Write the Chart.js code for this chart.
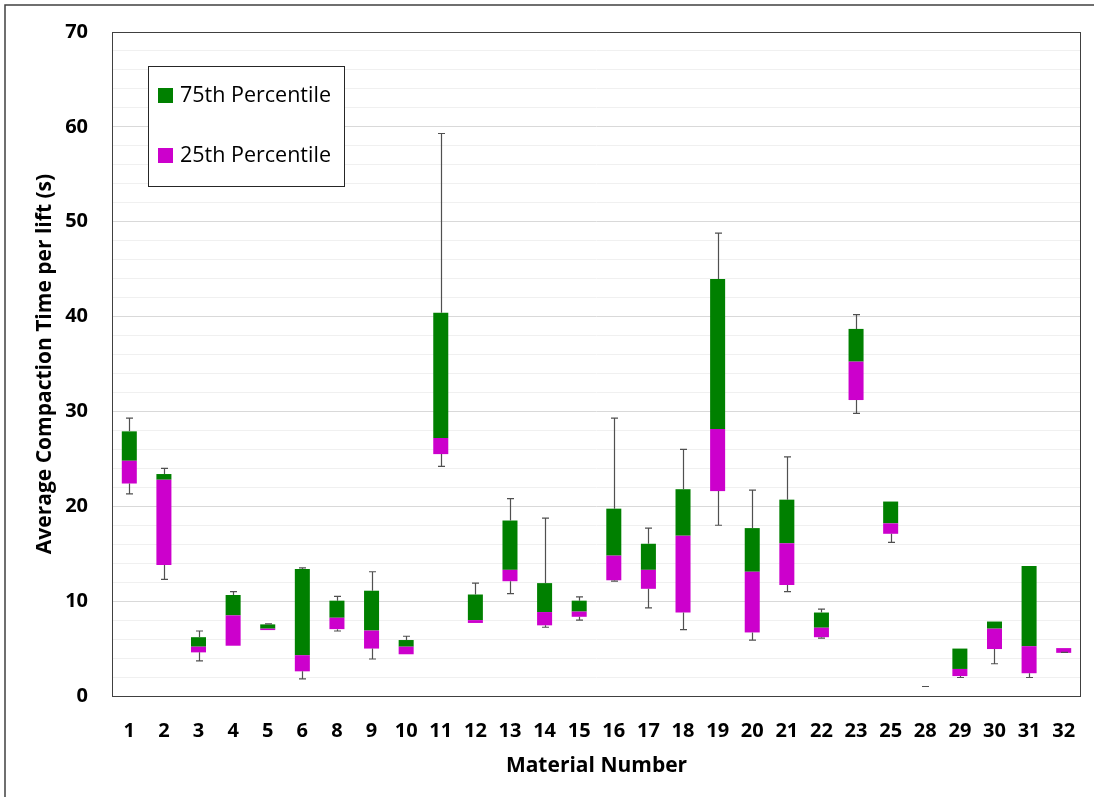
<!DOCTYPE html>
<html>
<head>
<meta charset="utf-8">
<script src="https://cdn.jsdelivr.net/npm/chart.js@4"></script>
<style>
  html, body { margin: 0; padding: 0; background: #fff; }
  #wrap { position: relative; width: 1094px; height: 797px; }
</style>
</head>
<body>
<div id="wrap"><canvas id="boxChart" width="1094" height="797"></canvas></div>
<script>
// Material numbers (x categories)
const materials = ['1','2','3','4','5','6','8','9','10','11','12','13','14','15','16','17','18','19','20','21','22','23','25','28','29','30','31','32'];

// Box plot values (seconds)
const q1Values =     [22.4, 13.8, 4.6, 5.3, 6.95, 2.6, 7.05, 5.0, 4.4, 25.5, 7.7, 12.1, 7.45, 8.35, 12.2, 11.3, 8.8, 21.6, 6.7, 11.7, 6.2, 31.2, 17.1, 1.0, 2.1, 4.95, 2.4, 4.55];
const medianValues = [24.8, 22.8, 5.2, 8.5, 7.1, 4.3, 8.25, 6.9, 5.2, 27.2, 8.0, 13.3, 8.85, 8.9, 14.8, 13.3, 16.9, 28.15, 13.1, 16.1, 7.2, 35.25, 18.2, 1.0, 2.85, 7.1, 5.25, 5.05];
const q3Values =     [27.9, 23.4, 6.2, 10.65, 7.55, 13.4, 10.05, 11.1, 5.9, 40.4, 10.7, 18.5, 11.9, 10.05, 19.75, 16.05, 21.8, 43.95, 17.7, 20.7, 8.8, 38.7, 20.5, 1.0, 5.0, 7.85, 13.7, 5.05];
const minValues =    [21.3, 12.3, 3.7, 5.3, 6.95, 1.8, 6.85, 3.9, 4.4, 24.2, 7.7, 10.8, 7.25, 8.0, 12.1, 9.3, 7.0, 18.0, 5.9, 11.0, 6.1, 29.8, 16.2, 1.0, 1.95, 3.4, 1.95, 4.6];
const maxValues =    [29.3, 24.0, 6.85, 11.0, 7.6, 13.5, 10.5, 13.1, 6.3, 59.3, 11.9, 20.8, 18.75, 10.45, 29.3, 17.7, 26.0, 48.8, 21.7, 25.2, 9.15, 40.2, 20.5, 1.0, 5.0, 7.85, 13.7, 5.05];

const GREEN = '#008000';
const MAGENTA = '#CC00CC';
const FONT = '"Open Sans", "Noto Sans", sans-serif';

// stacked segments built from the quartiles
const baseSeg = q1Values.slice();
const lowerSeg = medianValues.map((m, i) => +(m - q1Values[i]).toFixed(3));
const upperSeg = q3Values.map((q, i) => +(q - medianValues[i]).toFixed(3));

// whiskers (error bars) drawn with the chart's own scales
const whiskerPlugin = {
    id: 'whiskers',
    afterDatasetsDraw(chart) {
        const ctx = chart.ctx;
        const x = chart.scales.x, y = chart.scales.y;
        const cap = 3.5;
        ctx.save();
        ctx.strokeStyle = '#505050';
        ctx.lineWidth = 1.2;
        materials.forEach((m, i) => {
            const cx = Math.round(x.getPixelForValue(i)) + 0.5;
            const boxTop = y.getPixelForValue(q3Values[i]);
            const boxBot = y.getPixelForValue(q1Values[i]);
            const top = y.getPixelForValue(maxValues[i]);
            const bot = y.getPixelForValue(minValues[i]);
            ctx.beginPath();
            if (maxValues[i] > q3Values[i] || q3Values[i] === q1Values[i]) {
                ctx.moveTo(cx, boxTop); ctx.lineTo(cx, top);
                ctx.moveTo(cx - cap, top); ctx.lineTo(cx + cap, top);
            }
            if (minValues[i] !== q1Values[i] || q3Values[i] === q1Values[i]) {
                ctx.moveTo(cx, boxBot); ctx.lineTo(cx, bot);
                ctx.moveTo(cx - cap, bot); ctx.lineTo(cx + cap, bot);
            }
            ctx.stroke();
        });
        ctx.restore();
    }
};

// frame, outer border and boxed legend
const framePlugin = {
    id: 'frame',
    afterDraw(chart) {
        const ctx = chart.ctx;
        const a = chart.chartArea;
        ctx.save();
        ctx.strokeStyle = '#404040';
        ctx.lineWidth = 1;
        ctx.strokeRect(a.left + 0.5, a.top + 0.5, a.right - a.left - 1, a.bottom - a.top);
        // outer border (runs off the right and bottom edges)
        ctx.lineWidth = 1.5;
        ctx.strokeStyle = '#404040';
        ctx.strokeRect(5, 5, 1200, 1000);

        // legend box
        ctx.lineWidth = 1;
        ctx.strokeStyle = '#262626';
        ctx.fillStyle = '#fff';
        ctx.fillRect(148, 66, 197, 120);
        ctx.strokeRect(148.5, 66.5, 196, 120);
        const items = [['75th Percentile', GREEN, 96], ['25th Percentile', MAGENTA, 156]];
        ctx.font = '21.5px ' + FONT;
        ctx.textBaseline = 'middle';
        items.forEach(([label, color, yy]) => {
            ctx.fillStyle = color;
            ctx.fillRect(158, yy - 8, 15, 15);
            ctx.fillStyle = '#000';
            ctx.fillText(label, 180, yy);
        });
        ctx.restore();
    }
};

const ctx = document.getElementById('boxChart').getContext('2d');

const boxChart = new Chart(ctx, {
    type: 'bar',
    data: {
        labels: materials,
        datasets: [
            {
                label: 'base',
                data: baseSeg,
                backgroundColor: 'rgba(0,0,0,0)',
                borderWidth: 0
            },
            {
                label: '25th Percentile',
                data: lowerSeg,
                backgroundColor: MAGENTA,
                borderWidth: 0
            },
            {
                label: '75th Percentile',
                data: upperSeg,
                backgroundColor: GREEN,
                borderWidth: 0
            }
        ]
    },
    options: {
        responsive: false,
        animation: false,
        devicePixelRatio: 1,
        layout: { padding: { left: 0, top: 32, right: 13, bottom: 0 } },
        datasets: {
            bar: { barPercentage: 0.434, categoryPercentage: 1, grouped: false }
        },
        scales: {
            x: {
                stacked: true,
                afterFit: s => { s.height = 101; s.paddingLeft = 0; s.paddingRight = 0; },
                grid: { display: false, drawTicks: false },
                border: { display: false },
                ticks: {
                    padding: 23,
                    color: '#000',
                    font: { family: FONT, size: 20, weight: 'bold' },
                    maxRotation: 0,
                    autoSkip: false
                },
                title: {
                    display: true,
                    text: 'Material Number',
                    color: '#000',
                    font: { family: FONT, size: 21, weight: 'bold' },
                    padding: { top: 0, bottom: 18 }
                }
            },
            y: {
                stacked: true,
                min: 0,
                max: 70,
                afterFit: s => { s.width = 112; s.paddingTop = 0; s.paddingBottom = 0; },
                grid: {
                    drawTicks: false,
                    color: c => (c.tick.value % 10 === 0 ? '#d9d9d9' : '#f0f0f0'),
                    lineWidth: 1
                },
                border: { display: false },
                ticks: {
                    stepSize: 2,
                    autoSkip: false,
                    padding: 24,
                    color: '#000',
                    font: { family: FONT, size: 20, weight: 'bold' },
                    callback: v => (v % 10 === 0 ? v : '')
                },
                title: {
                    display: true,
                    text: 'Average Compaction Time per lift (s)',
                    color: '#000',
                    font: { family: FONT, size: 21, weight: 'bold' },
                    padding: { top: 32, bottom: 0 }
                }
            }
        },
        plugins: {
            legend: { display: false },
            tooltip: { enabled: false }
        }
    },
    plugins: [whiskerPlugin, framePlugin]
});
</script>
</body>
</html>
